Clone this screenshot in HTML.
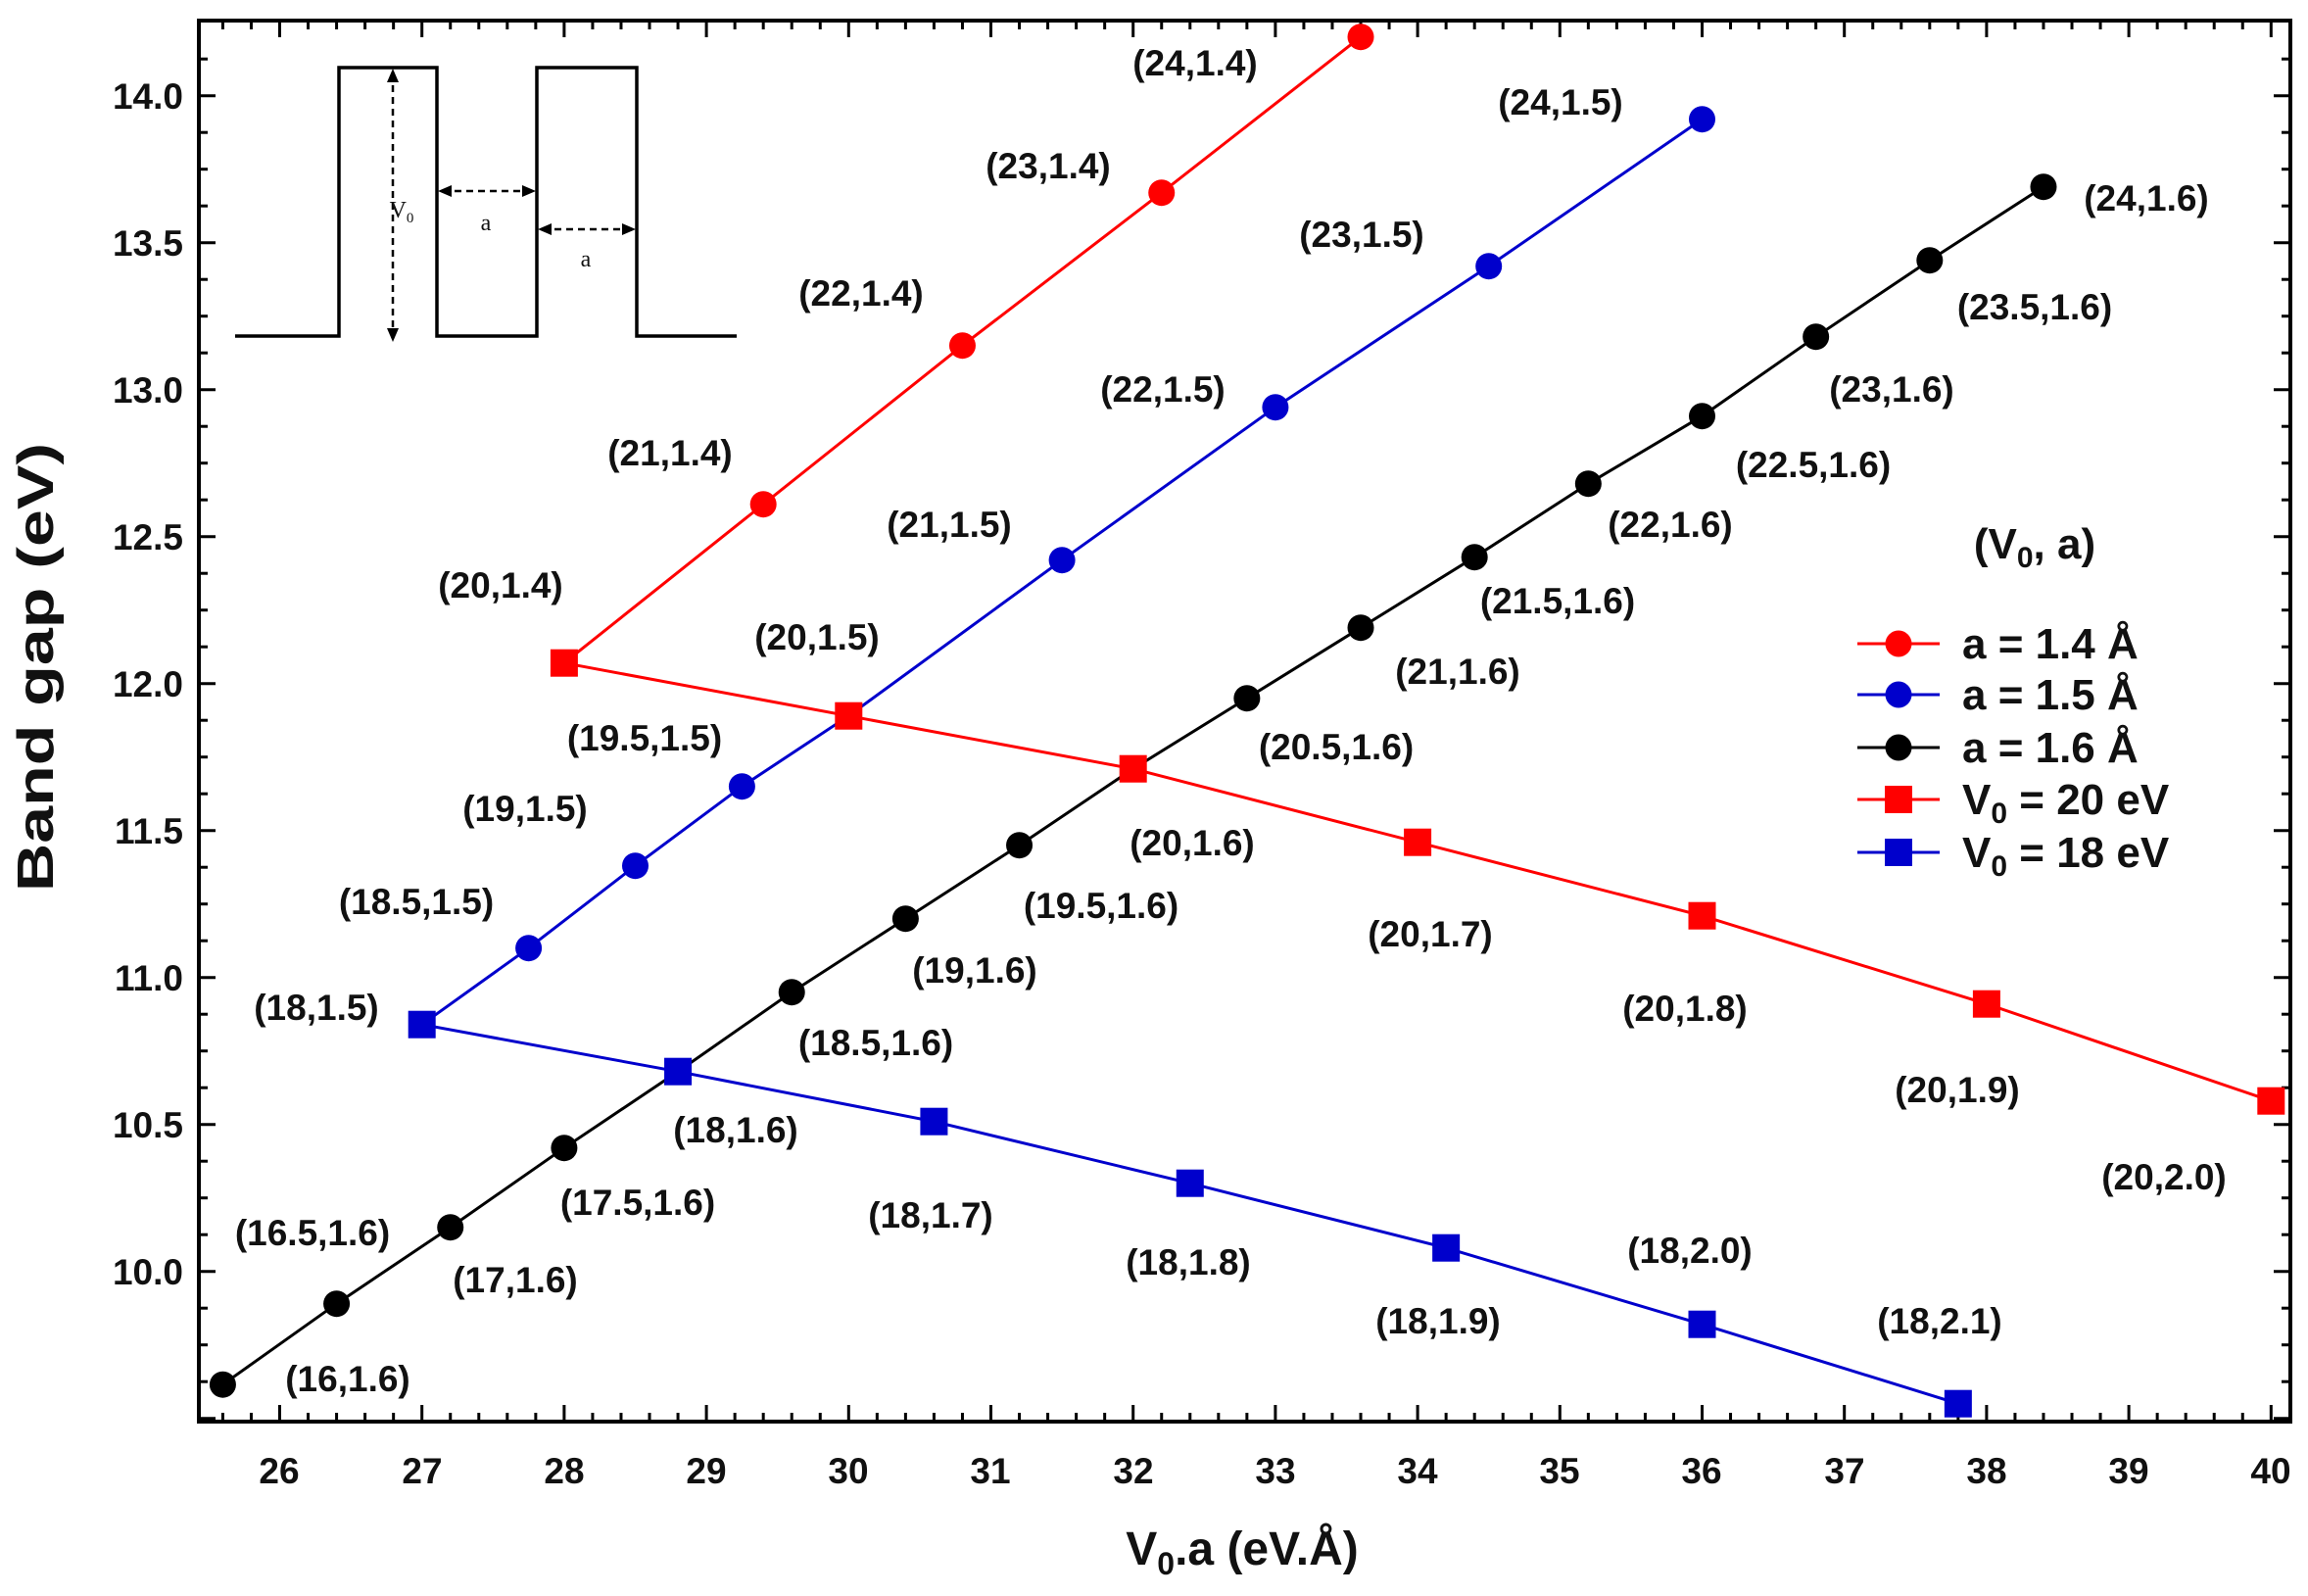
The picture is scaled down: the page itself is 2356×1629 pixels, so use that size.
<!DOCTYPE html>
<html><head><meta charset="utf-8"><style>
html,body{margin:0;padding:0;background:#fff}
svg{display:block}
text{font-family:"Liberation Sans",Arial,sans-serif;font-weight:bold;fill:#111}
.lb{font-size:37px;text-anchor:middle}
.tk{font-size:37px}
</style></head><body>
<svg id="s" width="2356" height="1629" viewBox="0 0 2356 1629" xmlns="http://www.w3.org/2000/svg">
<g id="ticks" stroke="#000" stroke-width="3"></g>
<rect x="203" y="21" width="2135" height="1430" fill="none" stroke="#000" stroke-width="4"/>
<g id="series"></g>
<!-- inset -->
<g stroke="#000" stroke-width="3.5" fill="none">
<polyline points="240,343 346,343 346,69 446,69 446,343 548,343 548,69 650,69 650,343 752,343"/>
</g>
<g stroke="#000" stroke-width="2.5" fill="none" stroke-dasharray="7,5">
<line x1="401" y1="75" x2="401" y2="343"/>
<line x1="452" y1="195" x2="542" y2="195"/>
<line x1="554" y1="234" x2="644" y2="234"/>
</g>
<g fill="#000">
<polygon points="401,70 395,84 407,84"/><polygon points="401,349 395,335 407,335"/>
<polygon points="447,195 461,189 461,201"/><polygon points="547,195 533,189 533,201"/>
<polygon points="549,234 563,228 563,240"/><polygon points="649,234 635,228 635,240"/>
</g>
<text x="410" y="222" style="font-family:'Liberation Serif',serif;font-size:24px;font-weight:normal" text-anchor="middle">V<tspan font-size="15" dy="5">0</tspan></text>
<text x="496" y="235" style="font-family:'Liberation Serif',serif;font-size:24px;font-weight:normal" text-anchor="middle">a</text>
<text x="598" y="272" style="font-family:'Liberation Serif',serif;font-size:24px;font-weight:normal" text-anchor="middle">a</text>

<!-- tick labels -->
<g class="tk" text-anchor="middle">
<text x="285" y="1514">26</text><text x="431" y="1514">27</text><text x="576" y="1514">28</text><text x="721" y="1514">29</text><text x="866" y="1514">30</text><text x="1011" y="1514">31</text><text x="1157" y="1514">32</text><text x="1302" y="1514">33</text><text x="1447" y="1514">34</text><text x="1592" y="1514">35</text><text x="1737" y="1514">36</text><text x="1883" y="1514">37</text><text x="2028" y="1514">38</text><text x="2173" y="1514">39</text><text x="2318" y="1514">40</text>
</g>
<g class="tk" text-anchor="end">
<text x="187" y="111">14.0</text><text x="187" y="261">13.5</text><text x="187" y="411">13.0</text><text x="187" y="561">12.5</text><text x="187" y="711">12.0</text><text x="187" y="861">11.5</text><text x="187" y="1011">11.0</text><text x="187" y="1161">10.5</text><text x="187" y="1311">10.0</text>
</g>
<text x="1268" y="1597" text-anchor="middle" style="font-size:48px">V<tspan font-size="32" dy="10">0</tspan><tspan dy="-10">.a (eV.Å)</tspan></text>
<text transform="translate(54,681) rotate(-90)" text-anchor="middle" style="font-size:52px" textLength="458" lengthAdjust="spacingAndGlyphs">Band gap (eV)</text>

<!-- point labels -->
<g class="lb">
<text x="1220" y="77">(24,1.4)</text>
<text x="1070" y="182">(23,1.4)</text>
<text x="879" y="312">(22,1.4)</text>
<text x="684" y="475">(21,1.4)</text>
<text x="511" y="610">(20,1.4)</text>
<text x="1593" y="117">(24,1.5)</text>
<text x="1390" y="252">(23,1.5)</text>
<text x="1187" y="410">(22,1.5)</text>
<text x="969" y="548">(21,1.5)</text>
<text x="834" y="663">(20,1.5)</text>
<text x="658" y="766">(19.5,1.5)</text>
<text x="536" y="838">(19,1.5)</text>
<text x="425" y="933">(18.5,1.5)</text>
<text x="323" y="1041">(18,1.5)</text>
<text x="2191" y="215">(24,1.6)</text>
<text x="2077" y="326">(23.5,1.6)</text>
<text x="1931" y="410">(23,1.6)</text>
<text x="1851" y="487">(22.5,1.6)</text>
<text x="1705" y="548">(22,1.6)</text>
<text x="1590" y="626">(21.5,1.6)</text>
<text x="1488" y="698">(21,1.6)</text>
<text x="1364" y="775">(20.5,1.6)</text>
<text x="1217" y="873">(20,1.6)</text>
<text x="1124" y="937">(19.5,1.6)</text>
<text x="995" y="1003">(19,1.6)</text>
<text x="894" y="1077">(18.5,1.6)</text>
<text x="751" y="1166">(18,1.6)</text>
<text x="651" y="1240">(17.5,1.6)</text>
<text x="526" y="1319">(17,1.6)</text>
<text x="319" y="1271">(16.5,1.6)</text>
<text x="355" y="1420">(16,1.6)</text>
<text x="1460" y="966">(20,1.7)</text>
<text x="1720" y="1042">(20,1.8)</text>
<text x="1998" y="1125">(20,1.9)</text>
<text x="2209" y="1214">(20,2.0)</text>
<text x="950" y="1253">(18,1.7)</text>
<text x="1213" y="1301">(18,1.8)</text>
<text x="1468" y="1361">(18,1.9)</text>
<text x="1725" y="1289">(18,2.0)</text>
<text x="1980" y="1361">(18,2.1)</text>
</g>

<!-- legend -->
<text x="2077" y="570" text-anchor="middle" style="font-size:44px">(V<tspan font-size="30" dy="9">0</tspan><tspan dy="-9">, a)</tspan></text>
<g stroke-width="3">
<line x1="1896" y1="657" x2="1980" y2="657" stroke="#f00"/><circle cx="1938" cy="657" r="13.5" fill="#f00"/>
<line x1="1896" y1="709" x2="1980" y2="709" stroke="#00c"/><circle cx="1938" cy="709" r="13.5" fill="#00c"/>
<line x1="1896" y1="763" x2="1980" y2="763" stroke="#000"/><circle cx="1938" cy="763" r="13.5" fill="#000"/>
<line x1="1896" y1="816" x2="1980" y2="816" stroke="#f00"/><rect x="1924" y="802" width="28" height="28" fill="#f00"/>
<line x1="1896" y1="870" x2="1980" y2="870" stroke="#00c"/><rect x="1924" y="856" width="28" height="28" fill="#00c"/>
</g>
<g style="font-size:44px">
<text x="2003" y="672">a = 1.4 Å</text>
<text x="2003" y="724">a = 1.5 Å</text>
<text x="2003" y="778">a = 1.6 Å</text>
<text x="2003" y="831">V<tspan font-size="30" dy="9">0</tspan><tspan dy="-9"> = 20 eV</tspan></text>
<text x="2003" y="885">V<tspan font-size="30" dy="9">0</tspan><tspan dy="-9"> = 18 eV</tspan></text>
</g>
</svg>
<script>
(function(){
var NS="http://www.w3.org/2000/svg";
function X(x){return 285.5+145.2*(x-26);}
function Y(y){return 97.7+300*(14-y);}
var tk=document.getElementById('ticks');
function ln(p,x1,y1,x2,y2){var l=document.createElementNS(NS,'line');l.setAttribute('x1',x1);l.setAttribute('y1',y1);l.setAttribute('x2',x2);l.setAttribute('y2',y2);p.appendChild(l);}
for(var i=0;i<=74;i++){var v=25.4+i*0.2;v=Math.round(v*10)/10;var x=X(v);if(x<205||x>2336)continue;var maj=Math.abs(v-Math.round(v))<1e-6;var L=maj?17:9;ln(tk,x,1451,x,1451-L);ln(tk,x,21,x,21+L);}
for(var j=0;j<=40;j++){var w=9.5+j*0.125;var y=Y(w);if(y<23||y>1449)continue;var maj=Math.abs(w*2-Math.round(w*2))<1e-6;var L=maj?17:9;ln(tk,203,y,203+L,y);ln(tk,2338,y,2338-L,y);}
var sg=document.getElementById('series');
function series(pts,col,sq){var pl=document.createElementNS(NS,'polyline');pl.setAttribute('points',pts.map(function(p){return X(p[0])+','+Y(p[1]);}).join(' '));pl.setAttribute('fill','none');pl.setAttribute('stroke',col);pl.setAttribute('stroke-width','3');sg.appendChild(pl);
pts.forEach(function(p){var m;if(sq){m=document.createElementNS(NS,'rect');m.setAttribute('x',X(p[0])-14);m.setAttribute('y',Y(p[1])-14);m.setAttribute('width',28);m.setAttribute('height',28);}else{m=document.createElementNS(NS,'circle');m.setAttribute('cx',X(p[0]));m.setAttribute('cy',Y(p[1]));m.setAttribute('r',13.5);}m.setAttribute('fill',col);sg.appendChild(m);});}
var bk=[9.615,9.89,10.15,10.42,10.68,10.95,11.2,11.45,11.71,11.95,12.19,12.43,12.68,12.91,13.18,13.44,13.69];
series(bk.map(function(v,i){return[(16+0.5*i)*1.6,v];}),'#000',false);
series([[27,10.84],[27.75,11.1],[28.5,11.38],[29.25,11.65],[30,11.89],[31.5,12.42],[33,12.94],[34.5,13.42],[36,13.92]],'#00c',false);
series([[28,12.07],[29.4,12.61],[30.8,13.15],[32.2,13.67],[33.6,14.2]],'#f00',false);
series([[28,12.07],[30,11.89],[32,11.71],[34,11.46],[36,11.21],[38,10.91],[40,10.58]],'#f00',true);
series([[27,10.84],[28.8,10.68],[30.6,10.51],[32.4,10.30],[34.2,10.08],[36,9.82],[37.8,9.55]],'#00c',true);
})();
</script>
</body></html>
